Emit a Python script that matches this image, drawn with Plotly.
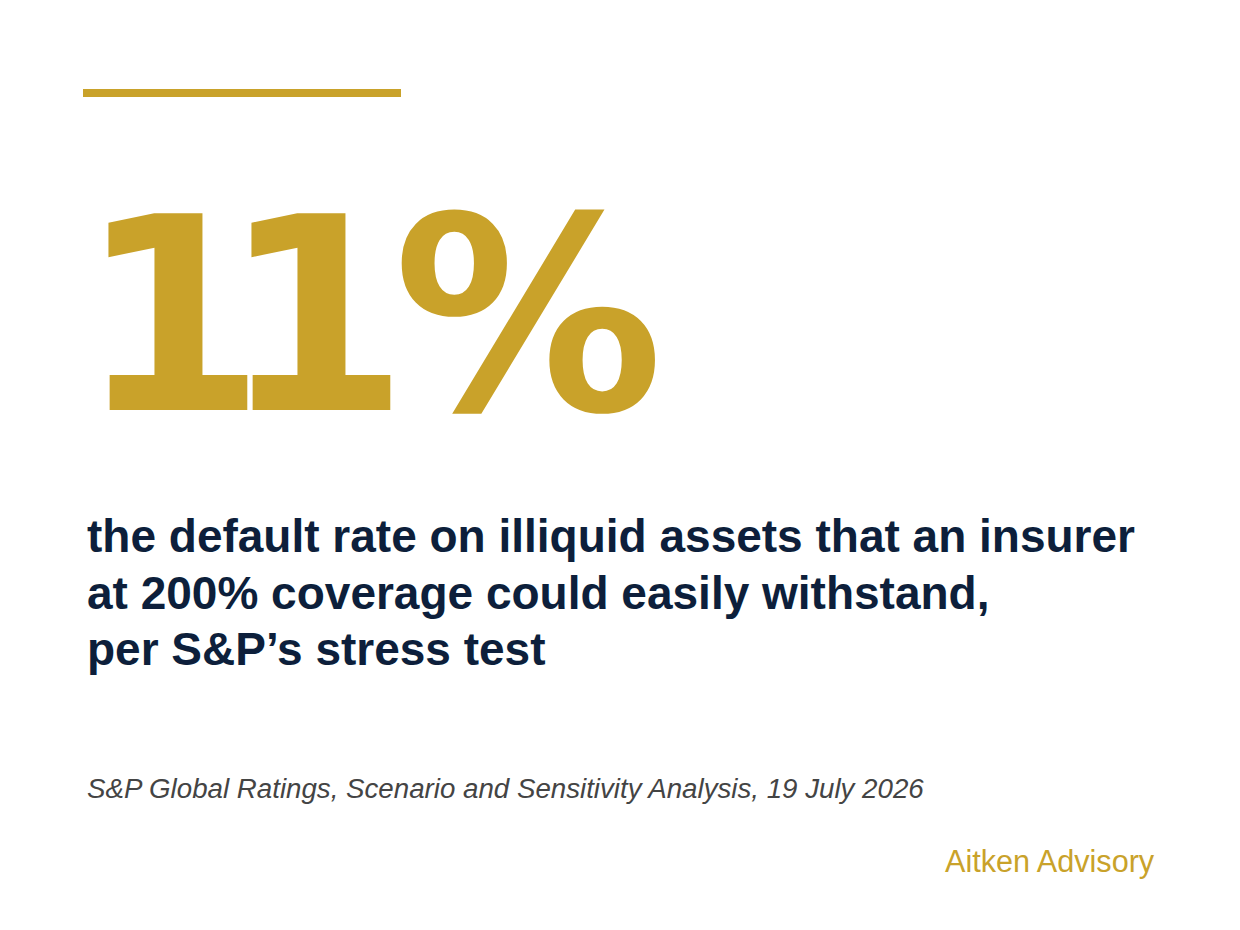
import plotly.graph_objects as go

W, H = 1240, 930
OFF = 8  # page margin around the plot div

# content
big_value = "11%"
statement_lines = [
    "the default rate on illiquid assets that an insurer",
    "at 200% coverage could easily withstand,",
    "per S&P\u2019s stress test",
]
source_text = "S&P Global Ratings, Scenario and Sensitivity Analysis, 19 July 2026"
brand_text = "Aitken Advisory"

GOLD = "#c9a22a"
NAVY = "#0d1f3b"
GREY = "#444444"


def px(x):
    return (x - OFF) / W


def py(y):
    return 1 - (y - OFF) / H


fig = go.Figure()

# gold rule at the top
fig.add_shape(type="rect", xref="paper", yref="paper",
              x0=px(83), x1=px(401), y0=py(97), y1=py(89),
              fillcolor=GOLD, line_width=0)

# big number, one glyph at a time so the tracking can be tightened
big_x = [76, 219, 391]
for ch, x in zip(big_value, big_x):
    fig.add_annotation(text=ch, x=px(x), y=py(316), xref="paper", yref="paper",
                       xanchor="left", yanchor="middle", showarrow=False,
                       font=dict(family="DejaVu Sans", size=270, color=GOLD, weight="bold"))

line_mid = [536, 593, 649]
for line, y in zip(statement_lines, line_mid):
    fig.add_annotation(text=line, x=px(85), y=py(y), xref="paper", yref="paper",
                       xanchor="left", yanchor="middle", showarrow=False,
                       font=dict(family="Liberation Sans", size=46, color=NAVY, weight="bold"))

fig.add_annotation(text=source_text, x=px(85), y=py(788), xref="paper", yref="paper",
                   xanchor="left", yanchor="middle", showarrow=False,
                   font=dict(family="Liberation Sans", size=27.7, color=GREY, style="italic"))

fig.add_annotation(text=brand_text, x=px(1157), y=py(861), xref="paper", yref="paper",
                   xanchor="right", yanchor="middle", showarrow=False,
                   font=dict(family="Liberation Sans", size=30.6, color=GOLD))

fig.update_layout(width=W, height=H, margin=dict(l=0, r=0, t=0, b=0),
                  paper_bgcolor="white", plot_bgcolor="white",
                  xaxis=dict(visible=False), yaxis=dict(visible=False),
                  showlegend=False)

fig.write_html("out.html")
